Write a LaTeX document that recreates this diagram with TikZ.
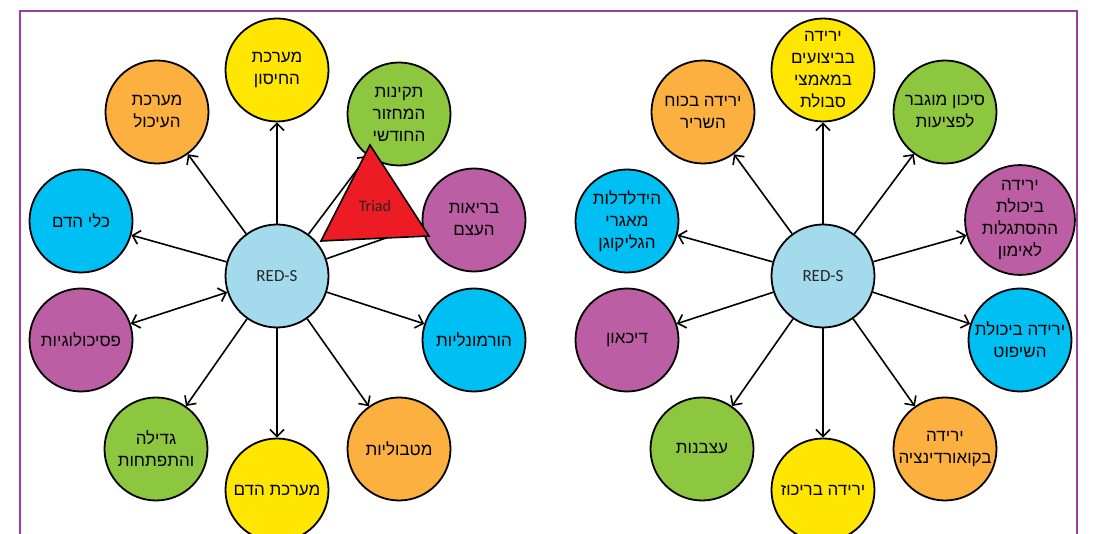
\documentclass[tikz,border=0pt]{standalone}
\usepackage{fontspec}
\setmainfont{Carlito}
\newfontfamily\hebfont[Script=Hebrew]{Liberation Sans}
\TeXXeTstate=1
\usetikzlibrary{arrows.meta}
\newcommand{\hb}[1]{{\hebfont\beginR #1\endR}}
\definecolor{cyel}{HTML}{FFE600}
\definecolor{cora}{HTML}{FBB040}
\definecolor{cgre}{HTML}{8DC63F}
\definecolor{cblu}{HTML}{00BFF3}
\definecolor{cpur}{HTML}{BC5EA4}
\definecolor{cred}{HTML}{A3DAEC}
\definecolor{ctri}{HTML}{ED1C24}
\definecolor{cbor}{HTML}{A03CA0}
\begin{document}
\begin{tikzpicture}[x=1pt,y=-1pt,
  bub/.style={circle, draw=black, line width=1.8pt, minimum size=103pt, inner sep=0pt, align=center, font=\fontsize{17}{22}\selectfont, text=black},
  hub/.style={bub, fill=cred, font=\fontsize{17}{20}\selectfont, text=black!85},
  arr/.style={line width=1.6pt, -{Straight Barb[length=7pt,width=14pt]}},
  darr/.style={line width=1.6pt, {Straight Barb[length=7pt,width=14pt]}-{Straight Barb[length=7pt,width=14pt]}}]
\useasboundingbox (0,0) rectangle (1096,534);
\draw[cbor, line width=2.6pt] (20,580) -- (20,11) -- (1077,11) -- (1077,580);

% left group
\node[hub] (L) at (277,276) {RED-S};
\node[bub, fill=cyel] (L1) at (277,70) {\hb{מערכת}\\\hb{החיסון}};
\node[bub, fill=cora] (L2) at (157,112) {\hb{מערכת}\\\hb{העיכול}};
\node[bub, fill=cgre] (L3) at (399,114) {\hb{תקינות}\\\hb{המחזור}\\\hb{החודשי}};
\node[bub, fill=cblu] (L4) at (81,221) {\hb{כלי הדם}};
\node[bub, fill=cpur] (L5) at (474,220) {\hb{בריאות}\\\hb{העצם}};
\node[bub, fill=cpur] (L6) at (81,340) {\hb{פסיכולוגיות}};
\node[bub, fill=cblu] (L7) at (474,340) {\hb{הורמונליות}};
\node[bub, fill=cgre] (L8) at (156,449) {\hb{גדילה}\\\hb{והתפתחות}};
\node[bub, fill=cyel] (L9) at (277,490) {\hb{מערכת הדם}};
\node[bub, fill=cora] (L10) at (399,449) {\hb{מטבוליות}};

\foreach \n in {L1,L2,L3,L4,L7,L8,L9,L10} \draw[arr] (L) -- (\n);
\draw[arr] (L) -- (L5.186);
\draw[darr] (L) -- (L6);

% right group
\node[hub] (R) at (823,276) {RED-S};
\node[bub, fill=cyel] (R1) at (823,70) {\hb{ירידה}\\\hb{בביצועים}\\\hb{במאמצי}\\\hb{סבולת}};
\node[bub, fill=cora] (R2) at (703,112) {\hb{ירידה בכוח}\\\hb{השריר}};
\node[bub, fill=cgre] (R3) at (945,112) {\hb{סיכון מוגבר}\\\hb{לפציעות}};
\node[bub, fill=cblu] (R4) at (627,221) {\hb{הידלדלות}\\\hb{מאגרי}\\\hb{הגליקוגן}};
\node[bub, fill=cpur] (R5) at (1020,220) {\hb{ירידה}\\\hb{ביכולת}\\\hb{ההסתגלות}\\\hb{לאימון}};
\node[bub, fill=cpur] (R6) at (627,340) {\hb{דיכאון}};
\node[bub, fill=cblu] (R7) at (1020,340) {\hb{ירידה ביכולת}\\\hb{השיפוט}};
\node[bub, fill=cgre] (R8) at (702,449) {\hb{עצבנות}};
\node[bub, fill=cyel] (R9) at (823,490) {\hb{ירידה בריכוז}};
\node[bub, fill=cora] (R10) at (945,449) {\hb{ירידה}\\\hb{בקואורדינציה}};

\foreach \n in {R1,R2,R3,R4,R5,R6,R7,R8,R9,R10} \draw[arr] (R) -- (\n);

% triad triangle
\draw[fill=ctri, line width=1.6pt, line join=miter] (370,145) -- (321,241) -- (429,236) -- cycle;
\node[font=\fontsize{16}{18}\selectfont, text=black!85] (triad) at (375,206) {Triad};
\end{tikzpicture}
\end{document}
